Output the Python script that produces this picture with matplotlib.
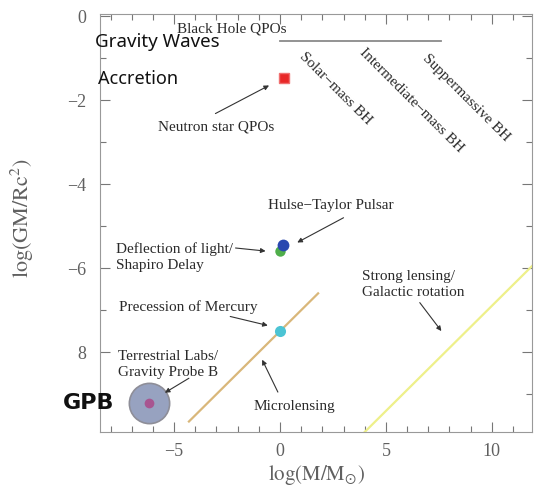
import matplotlib
matplotlib.use("Agg")
import matplotlib.pyplot as plt
from matplotlib.ticker import MultipleLocator, FixedLocator, FixedFormatter

plt.rcParams["mathtext.fontset"] = "stix"

# Regimes of gravity tests: mass scale vs. potential depth
logM_neutron, logP_neutron = 0.2, -1.48
logM_hulse, logP_hulse = 0.15, -5.45
logM_deflect, logP_deflect = 0.0, -5.58
logM_mercury, logP_mercury = 0.0, -7.5
logM_gpb, logP_gpb = -6.2, -9.2

bhqpo_x = [0.0, 7.6]
bhqpo_y = [-0.6, -0.6]
micro_x = [-4.3, 1.8]
micro_y = [-9.65, -6.6]
strong_x = [3.8, 12.0]
strong_y = [-10.0, -5.9]

ytick_vals = [0, -2, -4, -6, -8]
ytick_text = ["0", "\u22122", "\u22124", "\u22126", "8"]
xtick_vals = [-5, 0, 5, 10]
xtick_text = ["\u22125", "0", "5", "10"]

serif = ["Liberation Serif", "DejaVu Serif"]
txt_col = "#2a2a2a"
tick_col = "#606060"

fig = plt.figure(figsize=(5.34, 4.86), dpi=100)
ax = fig.add_axes([100 / 534, 1 - 432 / 486, 432 / 534, 418 / 486])
ax.set_xlim(-8.5, 11.9)
ax.set_ylim(-9.9, 0.05)

for sp in ax.spines.values():
    sp.set_color("#999999")
    sp.set_linewidth(0.8)

ax.xaxis.set_major_locator(FixedLocator(xtick_vals))
ax.xaxis.set_major_formatter(FixedFormatter(xtick_text))
ax.xaxis.set_minor_locator(MultipleLocator(1))
ax.yaxis.set_major_locator(FixedLocator(ytick_vals))
ax.yaxis.set_major_formatter(FixedFormatter(ytick_text))
ax.yaxis.set_minor_locator(MultipleLocator(1))
ax.tick_params(which="both", direction="in", top=True, right=True,
               color="#777777", width=0.8)
ax.tick_params(which="major", length=7, labelsize=13, labelcolor=tick_col, pad=8)
ax.tick_params(axis="y", which="major", pad=10)
ax.tick_params(which="minor", length=4)
for lab in ax.get_xticklabels() + ax.get_yticklabels():
    lab.set_fontfamily(serif)

ax.set_xlabel(r"$\mathrm{log(M/M_{\odot})}$", fontsize=15, color=tick_col, labelpad=2)
ax.set_ylabel(r"$\mathrm{log(GM/Rc^{2})}$", fontsize=16, color=tick_col)
ax.yaxis.set_label_coords(-0.148, 0.512)

# Lines
ax.plot(bhqpo_x, bhqpo_y, color="#8a8a8a", lw=1.3)
ax.plot(micro_x, micro_y, color="#d9b77a", lw=1.6)
ax.plot(strong_x, strong_y, color="#eef08a", lw=1.6)

# Points
ax.plot(logM_gpb, logP_gpb, "o", ms=29, mfc="#97a2c0", mec="#8e8e98", mew=1.2)
ax.plot(logM_gpb, logP_gpb, "o", ms=7, mfc="#a85590", mec="none")
ax.plot(logM_neutron, logP_neutron, "s", ms=7, color="#e82828", mec="#f07070", mew=1)
ax.plot(logM_deflect, logP_deflect, "o", ms=7.5, color="#4fae4a", mec="none")
ax.plot(logM_hulse, logP_hulse, "o", ms=8.5, color="#2a48b0", mec="none")
ax.plot(logM_mercury, logP_mercury, "o", ms=8, color="#4cc4d4", mec="none")

fs = 11
ap = dict(arrowstyle="-|>", color="#333333", lw=0.8, mutation_scale=7, shrinkA=0, shrinkB=2)

ax.text(-2.3, -0.3, "Black Hole QPOs", fontsize=fs, family=serif, color=txt_col,
        ha="center", va="center")
ax.text(-8.75, -0.62, "Gravity Waves", fontsize=13.5, weight="bold", color="#111111",
        family=["Noto Sans", "DejaVu Sans"], ha="left", va="center")
ax.text(-8.6, -1.5, "Accretion", fontsize=13, weight="bold", color="#111111",
        family=["Noto Sans", "DejaVu Sans"], ha="left", va="center")
ax.text(-3.0, -2.63, "Neutron star QPOs", fontsize=fs, family=serif, color=txt_col,
        ha="center", va="center")
ax.annotate("", xy=(-0.4, -1.62), xytext=(-3.05, -2.32), arrowprops=ap)

ax.text(2.6, -1.72, "Solar\u2212mass BH", fontsize=fs, family=serif, color=txt_col,
        ha="center", va="center", rotation=-45, rotation_mode="anchor")
ax.text(6.2, -2.0, "Intermediate\u2212mass BH", fontsize=fs, family=serif, color=txt_col,
        ha="center", va="center", rotation=-45, rotation_mode="anchor")
ax.text(8.8, -1.95, "Suppermassive BH", fontsize=fs, family=serif, color=txt_col,
        ha="center", va="center", rotation=-45, rotation_mode="anchor")

ax.text(2.4, -4.5, "Hulse\u2212Taylor Pulsar", fontsize=fs, family=serif, color=txt_col,
        ha="center", va="center")
ax.annotate("", xy=(0.7, -5.42), xytext=(3.0, -4.8), arrowprops=ap)

ax.text(-7.75, -5.73, "Deflection of light/\nShapiro Delay", fontsize=fs, family=serif,
        color=txt_col, ha="left", va="center", linespacing=1.3)
ax.annotate("", xy=(-0.55, -5.6), xytext=(-2.1, -5.52), arrowprops=ap)

ax.text(-7.6, -6.93, "Precession of Mercury", fontsize=fs, family=serif, color=txt_col,
        ha="left", va="center")
ax.annotate("", xy=(-0.45, -7.38), xytext=(-2.35, -7.15), arrowprops=ap)

ax.text(-7.65, -8.3, "Terrestrial Labs/\nGravity Probe B", fontsize=fs, family=serif,
        color=txt_col, ha="left", va="center", linespacing=1.3)
ax.annotate("", xy=(-5.55, -9.0), xytext=(-4.3, -8.62), arrowprops=ap)

ax.text(-10.25, -9.2, "GPB", fontsize=16, weight="bold", color="#111111",
        family=["DejaVu Sans"], ha="left", va="center")

ax.text(0.7, -9.3, "Microlensing", fontsize=fs, family=serif, color=txt_col,
        ha="center", va="center")
ax.annotate("", xy=(-0.9, -8.12), xytext=(-0.1, -8.95), arrowprops=ap)

ax.text(3.85, -6.38, "Strong lensing/\nGalactic rotation", fontsize=fs, family=serif,
        color=txt_col, ha="left", va="center", linespacing=1.3)
ax.annotate("", xy=(7.7, -7.55), xytext=(6.6, -6.82), arrowprops=ap)

fig.savefig("out.png", dpi=100)
